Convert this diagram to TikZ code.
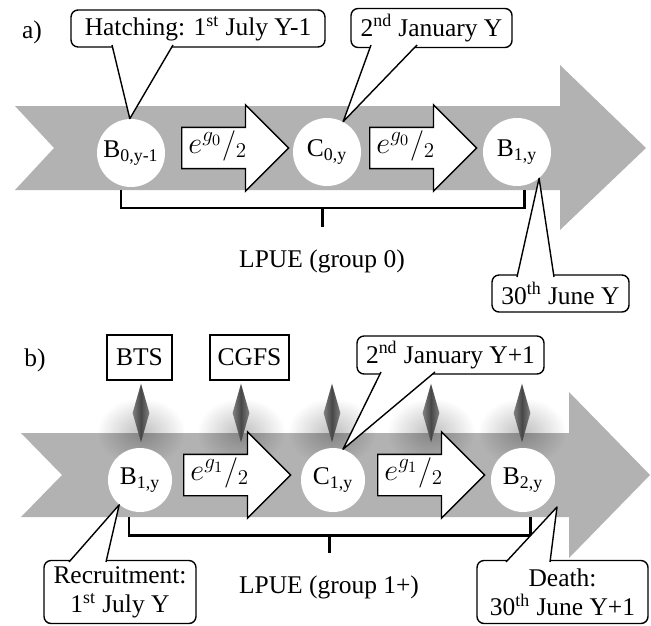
\documentclass[tikz,border=0pt]{standalone}
\usepackage{fontspec}
\setmainfont{Liberation Serif}
\usetikzlibrary{shapes.geometric,shapes.arrows,fadings,positioning}

\tikzfading[name=haze, inner color=transparent!75, outer color=transparent!100]

\tikzset{
  band/.style={fill=black!30},
  spot/.style={circle, fill=white, inner sep=0pt, minimum size=1.36cm},
  smallspot/.style={spot, minimum size=1.28cm},
  growth/.style={single arrow, draw, fill=white, line width=0.8pt,
    single arrow head extend=0.45cm, single arrow head indent=0pt,
    minimum height=2.14cm, inner ysep=0pt, inner xsep=2pt,
    text height=0.5cm, text depth=0.3cm, font=\fontsize{18}{20}\selectfont},
  datebox/.style={draw, fill=white, rounded corners=4pt, line width=0.8pt,
    inner sep=0pt, minimum height=0.74cm, align=center},
  survey/.style={draw, fill=white, line width=0.8pt, inner sep=0pt,
    minimum height=0.9cm},
  pointer/.style={draw, fill=white, line width=0.8pt, line join=round},
  bracket/.style={line width=1.7pt},
  probe/.style={diamond, inner sep=0pt, minimum width=0.34cm, minimum height=1.18cm,
    left color=black!50, right color=black!50, middle color=black!72}
}
\newcommand{\halfrate}[1]{$e^{g_{#1}}{/}_{2}$\hspace*{8pt}}

\begin{document}
\begin{tikzpicture}[x=0.02cm, y=-0.02cm, font=\fontsize{14.5}{16.5}\selectfont]
\useasboundingbox (0,0) rectangle (651,625);

% ---- a) group 0
\node (lbla) at (32,32) {a)};
\fill[band] (15,106) -- (560,106) -- (560,65) -- (646,148) -- (560,230)
  -- (560,190) -- (15,190) -- (54,148) -- cycle;

\node[spot] (b0) at (131,153) {B\textsubscript{0,y-1}};
\node[spot] (c0) at (327,152) {C\textsubscript{0,y}};
\node[spot] (b1) at (517,152) {B\textsubscript{1,y}};
\node[growth, anchor=tail] (ga1) at (181,148) {\halfrate{0}};
\node[growth, anchor=tail] (ga2) at (369,148) {\halfrate{0}};

\coordinate (bla) at (121,190);
\coordinate (bra) at (524,208);
\draw[bracket] (bla) |- (bra) -- (524,190);
\draw[bracket] (322,208) -- (322,227) node[below=0.3cm] (lpuea) {LPUE (group 0)};

\node[datebox, minimum width=5.08cm] (hatch) at (198,28.5) {Hatching: 1\textsuperscript{st} July Y-1};
\node[datebox, minimum width=3.22cm, minimum height=0.78cm] (jan0) at (431.5,28) {2\textsuperscript{nd} January Y};
\node[datebox, minimum width=2.74cm] (june0) at (560.5,293.5) {30\textsuperscript{th} June Y};
\path[pointer] (112,45) -- (b0.92) -- (173,45);
\path[pointer] (371,45) -- (c0.62) -- (417,45);
\path[pointer] (517,277) -- (b1.-50) -- (554,277);

% ---- b) group 1+
\node (lblb) at (35,360) {b)};
\fill[band] (21,433) -- (569,433) -- (569,392) -- (650,475) -- (569,558)
  -- (569,517) -- (21,517) -- (62,475) -- cycle;

\foreach \px in {141,241,332,431,522}
  \fill[black, path fading=haze] (\px,432) ellipse (44 and 34);
\foreach \px/\nm in {141/p1,241/p2,332/p3,431/p4,522/p5}
  \node[probe] (\nm) at (\px,413) {};

\node[smallspot] (b1y) at (140,480) {B\textsubscript{1,y}};
\node[smallspot] (c1y) at (333,480) {C\textsubscript{1,y}};
\node[smallspot] (b2y) at (523,480) {B\textsubscript{2,y}};
\node[growth, anchor=tail] (gb1) at (183,475) {\halfrate{1}};
\node[growth, anchor=tail] (gb2) at (377,475) {\halfrate{1}};

\coordinate (blb) at (129,517);
\coordinate (brb) at (530,535);
\draw[bracket] (blb) |- (brb) -- (530,517);
\draw[bracket] (329,535) -- (329,553) node[below=0.3cm] (lpueb) {LPUE (group 1+)};

\node[survey, minimum width=1.3cm] (bts) at (139.5,357.5) {BTS};
\node[survey, minimum width=1.58cm] (cgfs) at (249.5,357.5) {CGFS};
\node[datebox, minimum width=3.74cm, minimum height=0.76cm] (jan1) at (450.5,355) {2\textsuperscript{nd} January Y+1};
\node[datebox, minimum width=3.04cm, minimum height=1.26cm] (recr) at (120,592) {Recruitment:\\1\textsuperscript{st} July Y};
\node[datebox, minimum width=3.42cm, minimum height=1.26cm] (death) at (562.5,592) {Death:\\30\textsuperscript{th} June Y+1};
\coordinate (dtip) at (557,507);
\path[pointer] (381,372) -- (c1y.72) -- (435,372);
\path[pointer] (69,562) -- (b1y.-130) -- (106,562);
\path[pointer] (506,562) -- (dtip) -- (550,562);
\end{tikzpicture}
\end{document}
